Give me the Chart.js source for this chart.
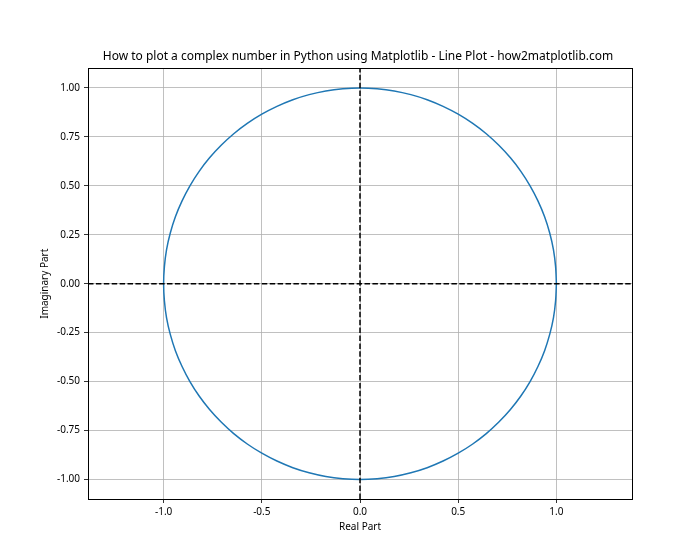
<!DOCTYPE html>
<html>
<head>
<meta charset="utf-8">
<script src="https://cdn.jsdelivr.net/npm/chart.js@4"></script>
<style>
  html, body { margin: 0; padding: 0; background: #fff; }
  #wrap { width: 700px; height: 560px; }
</style>
</head>
<body>
<div id="wrap"><canvas id="myChart" width="700" height="560"></canvas></div>
<script>
'use strict';
// unit circle points, every 5 degrees
const circleX = [1, 0.996, 0.985, 0.966, 0.940, 0.906, 0.866, 0.819, 0.766, 0.707,
    0.643, 0.574, 0.5, 0.423, 0.342, 0.259, 0.174, 0.087, 0,
    -0.087, -0.174, -0.259, -0.342, -0.423, -0.5, -0.574, -0.643, -0.707,
    -0.766, -0.819, -0.866, -0.906, -0.940, -0.966, -0.985, -0.996, -1,
    -0.996, -0.985, -0.966, -0.940, -0.906, -0.866, -0.819, -0.766, -0.707,
    -0.643, -0.574, -0.5, -0.423, -0.342, -0.259, -0.174, -0.087, 0,
    0.087, 0.174, 0.259, 0.342, 0.423, 0.5, 0.574, 0.643, 0.707,
    0.766, 0.819, 0.866, 0.906, 0.940, 0.966, 0.985, 0.996, 1];
const circleY = [0, 0.087, 0.174, 0.259, 0.342, 0.423, 0.5, 0.574, 0.643, 0.707,
    0.766, 0.819, 0.866, 0.906, 0.940, 0.966, 0.985, 0.996, 1,
    0.996, 0.985, 0.966, 0.940, 0.906, 0.866, 0.819, 0.766, 0.707,
    0.643, 0.574, 0.5, 0.423, 0.342, 0.259, 0.174, 0.087, 0,
    -0.087, -0.174, -0.259, -0.342, -0.423, -0.5, -0.574, -0.643, -0.707,
    -0.766, -0.819, -0.866, -0.906, -0.940, -0.966, -0.985, -0.996, -1,
    -0.996, -0.985, -0.966, -0.940, -0.906, -0.866, -0.819, -0.766, -0.707,
    -0.643, -0.574, -0.5, -0.423, -0.342, -0.259, -0.174, -0.087, 0];
const xLimits = [-1.385, 1.385];
const yLimits = [-1.1, 1.1];
const xTicks = [-1.0, -0.5, 0.0, 0.5, 1.0];
const yTicks = [-1.0, -0.75, -0.5, -0.25, 0.0, 0.25, 0.5, 0.75, 1.0];
const hLineX = [-1.385, 1.385];
const vLineY = [-1.1, 1.1];

const FONT = '"Noto Sans", "Open Sans", sans-serif';

// black frame round the plot area, like the matplotlib spines
const framePlugin = {
    id: 'frame',
    afterDatasetsDraw(chart) {
        const a = chart.chartArea;
        const ctx = chart.ctx;
        ctx.save();
        ctx.strokeStyle = '#000';
        ctx.lineWidth = 1;
        ctx.strokeRect(Math.round(a.left) + 0.5, Math.round(a.top) + 0.5,
            Math.round(a.right - a.left), Math.round(a.bottom - a.top));
        ctx.restore();
    }
};

function graphInit() {
    const ctx = document.getElementById('myChart').getContext('2d');
    new Chart(ctx, {
        type: 'line',
        data: {
            datasets: [{
                label: 'y = 0',
                data: hLineX.map(x => ({x: x, y: 0})),
                borderColor: '#000',
                borderWidth: 1.5,
                borderDash: [5.5, 2.4],
                pointRadius: 0
            }, {
                label: 'x = 0',
                data: vLineY.map(y => ({x: 0, y: y})),
                borderColor: '#000',
                borderWidth: 1.5,
                borderDash: [5.5, 2.4],
                pointRadius: 0
            }, {
                label: 'circle',
                data: circleX.map((x, i) => ({x: x, y: circleY[i]})),
                borderColor: '#1f77b4',
                borderWidth: 1.5,
                tension: 0.33,
                pointRadius: 0
            }]
        },
        options: {
            responsive: false,
            animation: false,
            layout: { padding: { left: 16, right: 0, top: 0, bottom: 0 } },
            plugins: {
                legend: { display: false },
                tooltip: { enabled: false },
                title: {
                    display: true,
                    text: 'How to plot a complex number in Python using Matplotlib - Line Plot - how2matplotlib.com',
                    color: '#000',
                    font: { family: FONT, size: 12, weight: 'normal' },
                    padding: { top: 49, bottom: 5 }
                }
            },
            scales: {
                x: {
                    type: 'linear',
                    min: xLimits[0],
                    max: xLimits[1],
                    afterBuildTicks: scale => { scale.ticks = xTicks.map(v => ({value: v})); },
                    afterFit: scale => { scale.height = 61; },
                    grid: { color: '#b0b0b0', lineWidth: 0.8, tickLength: 4, tickColor: '#000', drawTicks: true },
                    border: { display: false },
                    ticks: {
                        color: '#000',
                        padding: 3,
                        maxRotation: 0,
                        font: { family: FONT, size: 10 },
                        callback: v => v.toFixed(1)
                    },
                    title: {
                        display: true,
                        text: 'Real Part',
                        color: '#000',
                        font: { family: FONT, size: 10 },
                        padding: { top: 0, bottom: 27 }
                    }
                },
                y: {
                    type: 'linear',
                    min: yLimits[0],
                    max: yLimits[1],
                    afterBuildTicks: scale => { scale.ticks = yTicks.map(v => ({value: v})); },
                    afterFit: scale => { scale.width = 72; },
                    grid: { color: '#b0b0b0', lineWidth: 0.8, tickLength: 4, tickColor: '#000', drawTicks: true },
                    border: { display: false },
                    ticks: {
                        color: '#000',
                        padding: 4,
                        font: { family: FONT, size: 10 },
                        callback: v => v.toFixed(2)
                    },
                    title: {
                        display: true,
                        text: 'Imaginary Part',
                        color: '#000',
                        font: { family: FONT, size: 10 },
                        padding: { top: 23, bottom: 0 }
                    }
                },
                // empty right-hand axis, only keeps the right margin
                yRight: {
                    type: 'linear',
                    position: 'right',
                    min: yLimits[0],
                    max: yLimits[1],
                    afterFit: scale => { scale.width = 68; },
                    grid: { display: false },
                    border: { display: false },
                    ticks: { display: false }
                }
            }
        },
        plugins: [framePlugin]
    });
}

graphInit();
</script>
</body>
</html>
